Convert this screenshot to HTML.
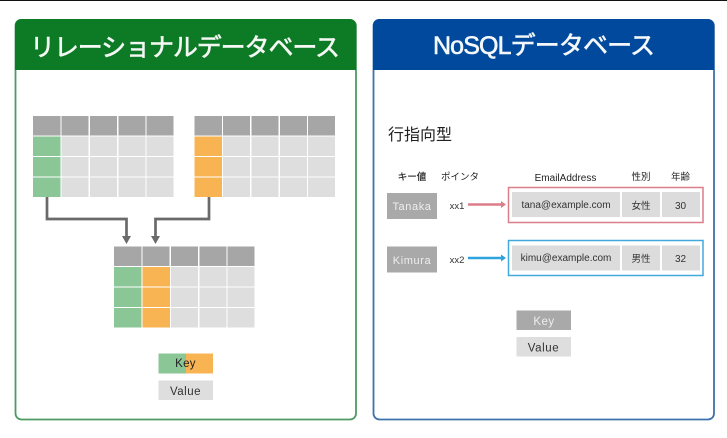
<!DOCTYPE html>
<html lang="ja"><head><meta charset="utf-8"><title>RDB and NoSQL</title>
<style>
html,body{margin:0;padding:0;background:#fff;width:727px;height:438px;overflow:hidden}
svg{display:block}
text{font-family:"Liberation Sans","Noto Sans CJK JP",sans-serif;text-anchor:middle}
</style></head><body>
<svg width="727" height="438" viewBox="0 0 727 438" xmlns="http://www.w3.org/2000/svg">
<defs>
<g id="cols">
<rect x="0" width="27.5" height="19.5"/><rect x="28.5" width="27" height="19.5"/><rect x="57" width="27" height="19.5"/><rect x="85.5" width="27" height="19.5"/><rect x="113.5" width="27" height="19.5"/>
</g>
<filter id="b" x="-5%" y="-5%" width="110%" height="110%"><feGaussianBlur stdDeviation="0.35"/></filter>
</defs>
<rect x="0" y="0" width="727" height="1" fill="#111"/>
<g filter="url(#b)">
<!-- left panel -->
<rect x="15.5" y="20" width="340.5" height="399.5" rx="6" fill="#fff" stroke="#4f9a62" stroke-width="1.8"/>
<path d="M15 70V25a6 6 0 0 1 6-6H350a6 6 0 0 1 6 6V70Z" fill="#0f7a26"/>
<!-- right panel -->
<rect x="373.5" y="20" width="340.5" height="399.5" rx="6" fill="#fff" stroke="#3f71ad" stroke-width="1.8"/>
<path d="M373 70V25a6 6 0 0 1 6-6H708a6 6 0 0 1 6 6V70Z" fill="#034a9c"/>

<!-- table 1 -->
<g transform="translate(33,116)"><use href="#cols" fill="#a6a6a6"/></g>
<g transform="translate(33,136.500)"><use href="#cols" fill="#dedede"/><rect width="27.500" height="19.500" fill="#8bc796"/></g>
<g transform="translate(33,157)"><use href="#cols" fill="#dedede"/><rect width="27.500" height="19.500" fill="#8bc796"/></g>
<g transform="translate(33,177.500)"><use href="#cols" fill="#dedede"/><rect width="27.500" height="19.500" fill="#8bc796"/></g>
<!-- table 2 -->
<g transform="translate(194.500,116)"><use href="#cols" fill="#a6a6a6"/></g>
<g transform="translate(194.500,136.500)"><use href="#cols" fill="#dedede"/><rect width="27.500" height="19.500" fill="#f8b452"/></g>
<g transform="translate(194.500,157)"><use href="#cols" fill="#dedede"/><rect width="27.500" height="19.500" fill="#f8b452"/></g>
<g transform="translate(194.500,177.500)"><use href="#cols" fill="#dedede"/><rect width="27.500" height="19.500" fill="#f8b452"/></g>
<!-- table 3 -->
<g transform="translate(114,246.500)"><use href="#cols" fill="#a6a6a6"/></g>
<g transform="translate(114,267)"><use href="#cols" fill="#dedede"/><rect width="27.500" height="19.500" fill="#8bc796"/><rect x="28.500" width="27.500" height="19.500" fill="#f8b452"/></g>
<g transform="translate(114,287.500)"><use href="#cols" fill="#dedede"/><rect width="27.500" height="19.500" fill="#8bc796"/><rect x="28.500" width="27.500" height="19.500" fill="#f8b452"/></g>
<g transform="translate(114,308)"><use href="#cols" fill="#dedede"/><rect width="27.500" height="19.500" fill="#8bc796"/><rect x="28.500" width="27.500" height="19.500" fill="#f8b452"/></g>

<!-- connectors -->
<path d="M47 197V219H126.500V238" fill="none" stroke="#6a6a6a" stroke-width="2.700"/>
<path d="M209 197V219H155.500V238" fill="none" stroke="#6a6a6a" stroke-width="2.700"/>
<path d="M122 236H131L126.500 244Z" fill="#6a6a6a"/>
<path d="M151 236H160L155.500 244Z" fill="#6a6a6a"/>

<!-- legend left -->
<rect x="158.500" y="353.500" width="27.500" height="20" fill="#8bc796"/>
<rect x="186" y="353.500" width="27" height="20" fill="#f8b452"/>
<rect x="158.500" y="380.500" width="54.500" height="19.500" fill="#dedede"/>
<text x="185.500" y="367" font-size="11.500" letter-spacing=".3" fill="#222">Key</text>
<text x="185.500" y="395" font-size="11.500" letter-spacing=".5" fill="#333">Value</text>

<!-- right content -->
<rect x="387" y="193" width="50" height="26" fill="#a9a9a9"/>
<rect x="387" y="246.500" width="50" height="26" fill="#a9a9a9"/>
<text x="412" y="210" font-size="11" letter-spacing=".6" fill="#eee">Tanaka</text>
<text x="412" y="264" font-size="11" letter-spacing=".6" fill="#eee">Kimura</text>

<rect x="508.500" y="187.500" width="194.500" height="35" fill="#fff" stroke="#dc7d8a" stroke-width="1.500"/>
<rect x="508.500" y="240.500" width="194.500" height="35" fill="#fff" stroke="#43a9dd" stroke-width="1.500"/>
<rect x="512" y="192" width="108" height="25" fill="#dcdcdc"/>
<rect x="622" y="192" width="38" height="25" fill="#dcdcdc"/>
<rect x="662" y="192" width="38" height="25" fill="#dcdcdc"/>
<rect x="512" y="245.500" width="108" height="25" fill="#dcdcdc"/>
<rect x="622" y="245.500" width="38" height="25" fill="#dcdcdc"/>
<rect x="662" y="245.500" width="38" height="25" fill="#dcdcdc"/>

<path d="M468 204.500H502" stroke="#dc7d8a" stroke-width="2.600"/><path d="M501 201L506 204.500L501 208Z" fill="#dc7d8a"/>
<path d="M468 258H502" stroke="#2ea3de" stroke-width="2.600"/><path d="M501 254.500L506 258L501 261.500Z" fill="#2ea3de"/>

<rect x="516.500" y="310.500" width="54.500" height="19.500" fill="#a9a9a9"/>
<rect x="516.500" y="337" width="54.500" height="19.500" fill="#dedede"/>
<text x="544" y="325" font-size="11.500" letter-spacing=".5" fill="#eee">Key</text>
<text x="543.500" y="351.500" font-size="11.500" letter-spacing=".6" fill="#333">Value</text>

<!-- titles -->
<text x="185" y="56" font-size="25" fill="#f4f8f4" stroke="#f4f8f4" stroke-width=".6" textLength="310" lengthAdjust="spacing">リレーショナルデータベース</text>
<text x="544" y="54" font-size="25" fill="#f4f8fb" stroke="#f4f8fb" stroke-width=".6" textLength="222" lengthAdjust="spacing">NoSQLデータベース</text>
<text x="420" y="140" font-size="16" fill="#222">行指向型</text>

<text x="412" y="180" font-size="9.500" fill="#222" stroke="#222" stroke-width=".2">キー値</text>
<text x="460" y="180" font-size="9.500" fill="#222">ポインタ</text>
<text x="565.500" y="181" font-size="10" fill="#222">EmailAddress</text>
<text x="641" y="180" font-size="9.500" fill="#222">性別</text>
<text x="680.500" y="180" font-size="9.500" fill="#222">年齢</text>

<text x="457" y="209" font-size="9.500" fill="#333">xx1</text>
<text x="457" y="263" font-size="9.500" fill="#333">xx2</text>
<text x="566" y="208" font-size="10" fill="#333">tana@example.com</text>
<text x="566" y="261" font-size="10" fill="#333">kimu@example.com</text>
<text x="641" y="209" font-size="9.500" fill="#333">女性</text>
<text x="680.500" y="209" font-size="10" fill="#333">30</text>
<text x="641" y="262" font-size="9.500" fill="#333">男性</text>
<text x="680.500" y="262" font-size="10" fill="#333">32</text>
</g>
</svg>
</body></html>
